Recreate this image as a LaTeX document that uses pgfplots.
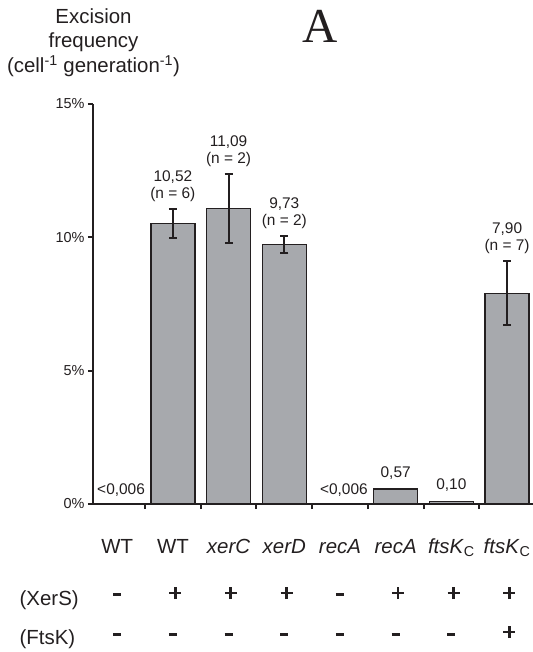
\documentclass[border=0pt]{standalone}
\usepackage{pgfplots}
\pgfplotsset{compat=1.18}
\usepackage{fontspec}
\setmainfont{Liberation Sans}
\newfontfamily\titlefont{Liberation Serif}
\definecolor{barfill}{RGB}{167,169,173}
\definecolor{ink}{RGB}{35,31,32}
\newcommand{\lbl}{\fontsize{15.5}{17}\selectfont}
\newcommand{\bigtxt}{\fontsize{20.5}{24}\selectfont}
\newcommand{\minus}{\rule{8bp}{3bp}}
\newcommand{\plus}{\rlap{\rule[-1.4bp]{12bp}{2.8bp}}\hspace{4.6bp}\rule[-6bp]{2.8bp}{12bp}\hspace{4.6bp}}
\pgfplotstableread{
x y e
1 10.52 0.55
2 11.09 1.30
3 9.73 0.33
7 7.90 1.20
}\errbars
\pgfplotstableread{
x y
5 0.57
6 0.10
}\smallbars
\begin{document}
\begin{tikzpicture}
\path[use as bounding box] (-93bp,-148bp) rectangle (440bp,504bp);
\begin{axis}[
  at={(0,0)}, anchor=south west,
  scale only axis, width=440bp, height=400bp,
  xmin=-0.434, xmax=7.465, ymin=0, ymax=15,
  axis x line*=bottom, axis y line*=left,
  axis line style={-, line width=2.6bp, ink},
  xtick={0.5,1.5,2.5,3.5,4.5,5.5,6.5}, xticklabels={},
  ytick={0,5,10,15}, yticklabels={0\%,5\%,10\%,15\%},
  tick align=outside, major tick length=5bp,
  tick style={ink, line width=2bp},
  yticklabel style={font=\fontsize{14.5}{16}\selectfont, text=ink},
  clip=false,
]
\addplot[ybar, bar width=44bp, bar shift=0pt, fill=barfill, draw=ink, line width=1.5bp,
  error bars/.cd, y dir=both, y explicit,
  error bar style={line width=1.9bp, ink},
  error mark options={rotate=90, mark size=4bp, line width=1.9bp, ink}]
  table[x=x, y=y, y error=e] {\errbars};
\addplot[ybar, bar width=44bp, bar shift=0pt, fill=barfill, draw=ink, line width=1.5bp]
  table[x=x, y=y] {\smallbars};

% value labels
\begin{scope}[every node/.style={anchor=base, font=\lbl, text=ink, inner sep=0pt}]
\node at (axis cs:1,12.10) {10,52};
\node at (axis cs:1,11.46) {(n = 6)};
\node at (axis cs:2,13.42) {11,09};
\node at (axis cs:2,12.78) {(n = 2)};
\node at (axis cs:3,11.09) {9,73};
\node at (axis cs:3,10.45) {(n = 2)};
\node at (axis cs:7,10.13) {7,90};
\node at (axis cs:7,9.49) {(n = 7)};
\node at (axis cs:5,0.98) {0,57};
\node at (axis cs:6,0.55) {0,10};
\node at (axis cs:0.07,0.34) {<0,006};
\node at (axis cs:4.07,0.34) {<0,006};
\end{scope}
% category labels and table
\begin{scope}[every node/.style={anchor=base, font=\bigtxt, text=ink, inner sep=0pt}]
\node at (axis cs:0,-1.84) {WT};
\node at (axis cs:1,-1.84) {WT};
\node at (axis cs:2,-1.84) {\textit{xerC}};
\node at (axis cs:3,-1.84) {\textit{xerD}};
\node at (axis cs:4,-1.84) {\textit{recA}};
\node at (axis cs:5,-1.84) {\textit{recA}};
\node at (axis cs:6,-1.84) {\textit{ftsK}\textsubscript{C}};
\node at (axis cs:7,-1.84) {\textit{ftsK}\textsubscript{C}};
\end{scope}
\begin{scope}[every node/.style={anchor=center, text=ink, inner sep=0pt}]
% (XerS) row
\node at (axis cs:0,-3.41) {\minus};
\node at (axis cs:1,-3.34) {\plus};
\node at (axis cs:2,-3.34) {\plus};
\node at (axis cs:3,-3.34) {\plus};
\node at (axis cs:4,-3.41) {\minus};
\node at (axis cs:5,-3.34) {\plus};
\node at (axis cs:6,-3.34) {\plus};
\node at (axis cs:7,-3.34) {\plus};
% (FtsK) row
\node at (axis cs:0,-4.875) {\minus};
\node at (axis cs:1,-4.875) {\minus};
\node at (axis cs:2,-4.875) {\minus};
\node at (axis cs:3,-4.875) {\minus};
\node at (axis cs:4,-4.875) {\minus};
\node at (axis cs:5,-4.875) {\minus};
\node at (axis cs:6,-4.875) {\minus};
\node at (axis cs:7,-4.80) {\plus};
\end{scope}
\end{axis}
\begin{scope}[every node/.style={anchor=base, font=\bigtxt, text=ink, inner sep=0pt}]
\node[anchor=base west] at (-73.5bp,-101bp) {(XerS)};
\node[anchor=base west] at (-73.5bp,-140bp) {(FtsK)};
\node at (0.5bp,480bp) {Excision};
\node at (0.5bp,456bp) {frequency};
\node at (0.5bp,431bp) {(cell\textsuperscript{-1} generation\textsuperscript{-1})};
\node at (227bp,461bp) {\titlefont\fontsize{49}{50}\selectfont A};
\end{scope}
\end{tikzpicture}
\end{document}
